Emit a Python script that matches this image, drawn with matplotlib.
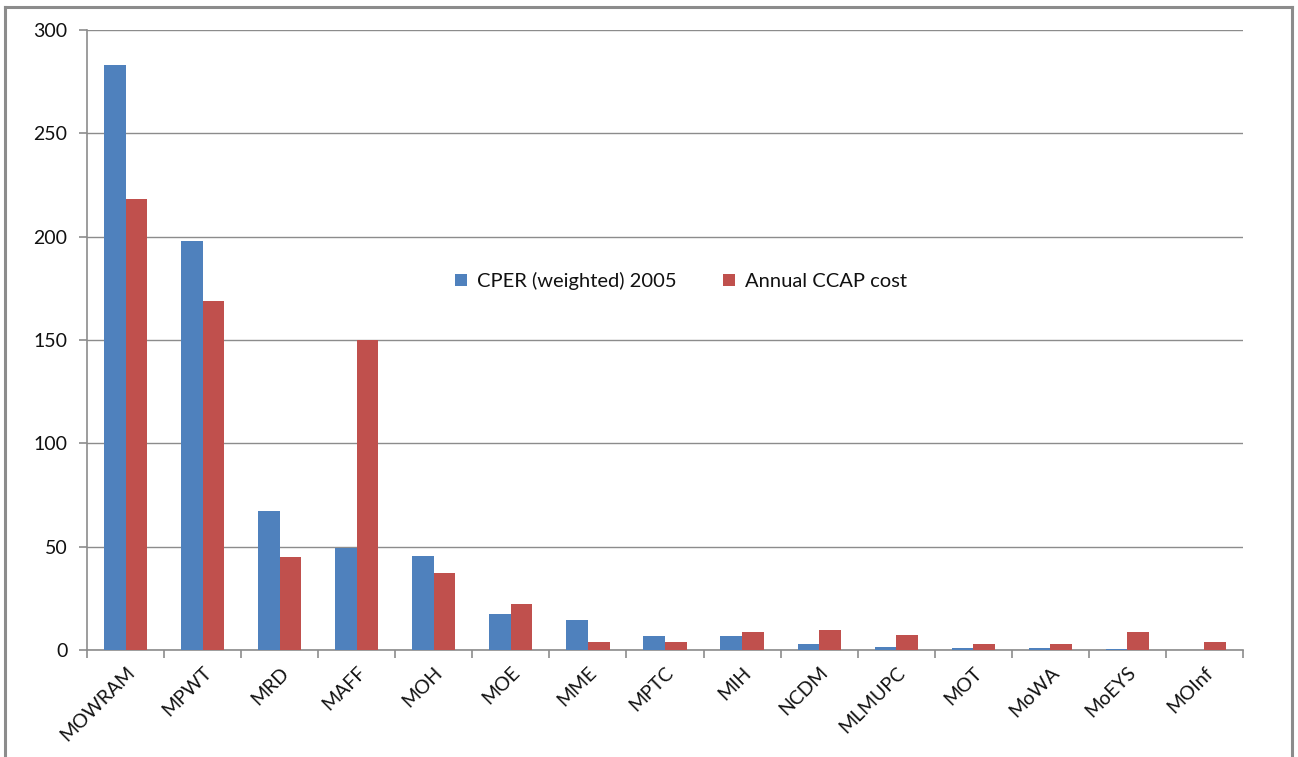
import matplotlib
matplotlib.use("Agg")
import matplotlib.pyplot as plt
from matplotlib.lines import Line2D
import numpy as np

categories = ["MOWRAM", "MPWT", "MRD", "MAFF", "MOH", "MOE", "MME", "MPTC",
              "MIH", "NCDM", "MLMUPC", "MOT", "MoWA", "MoEYS", "MOInf"]
cper = [283, 198, 67.3, 49.4, 45.5, 17.3, 14.5, 6.8, 6.8, 2.7, 1.5, 1.0, 1.0, 0.5, 0]
ccap = [218, 169, 45, 150, 37.3, 22.1, 4.0, 3.7, 8.5, 9.5, 7.3, 2.9, 2.9, 8.7, 3.9]
series_names = ["CPER (weighted) 2005", "Annual CCAP cost"]
yticks = [0, 50, 100, 150, 200, 250, 300]

plt.rcParams['font.family'] = ['Lato', 'DejaVu Sans']

fig = plt.figure(figsize=(12.98, 7.57), dpi=100)
ax = fig.add_axes([87/1298, 1-650/757, (1243-87)/1298, 620/757])

x = np.arange(len(categories))
w = 0.28
blue = "#4F81BD"
red = "#C0504D"
ax.bar(x - w/2, cper, width=w, color=blue, label=series_names[0], zorder=3)
ax.bar(x + w/2, ccap, width=w, color=red, label=series_names[1], zorder=3)

ax.set_xlim(-0.5, len(categories) - 0.5)
ax.set_ylim(0, 300)
ax.set_yticks(yticks)
ax.yaxis.grid(True, color="#8c8c8c", linewidth=1.0, zorder=0)
ax.set_axisbelow(True)

for s in ["top", "right"]:
    ax.spines[s].set_visible(False)
for s in ["left", "bottom"]:
    ax.spines[s].set_color("#8c8c8c")
    ax.spines[s].set_linewidth(1.2)

txt = "#111111"
ax.set_xticks(np.arange(len(categories) + 1) - 0.5)
ax.set_xticklabels([])
ax.set_xticks(x, minor=True)
ax.set_xticklabels(categories, minor=True, rotation=45, ha="right",
                   rotation_mode="anchor", fontsize=14, color=txt)
ax.tick_params(axis="x", which="major", length=6, color="#8c8c8c", width=1.2)
ax.tick_params(axis="x", which="minor", length=0, pad=10)
ax.tick_params(axis="y", length=6, color="#8c8c8c", width=1.2, labelsize=14,
               labelcolor=txt, pad=8)

leg = ax.legend(ncol=2, frameon=False, loc="center", bbox_to_anchor=(0.514, 0.595),
                fontsize=14.5, handlelength=0.6, handleheight=0.6, columnspacing=2.3,
                handletextpad=0.5)
for t in leg.get_texts():
    t.set_color(txt)

# outer chart border
bc = "#8c8c8c"
xl, xr, yt = 5/1298, 1291.5/1298, 1-7/757
fig.add_artist(Line2D([xl, xl], [0, yt], color=bc, linewidth=2.2))
fig.add_artist(Line2D([xr, xr], [0, yt], color=bc, linewidth=2.2))
fig.add_artist(Line2D([xl, xr], [yt, yt], color=bc, linewidth=2.2))

fig.savefig("out.png", dpi=100)
